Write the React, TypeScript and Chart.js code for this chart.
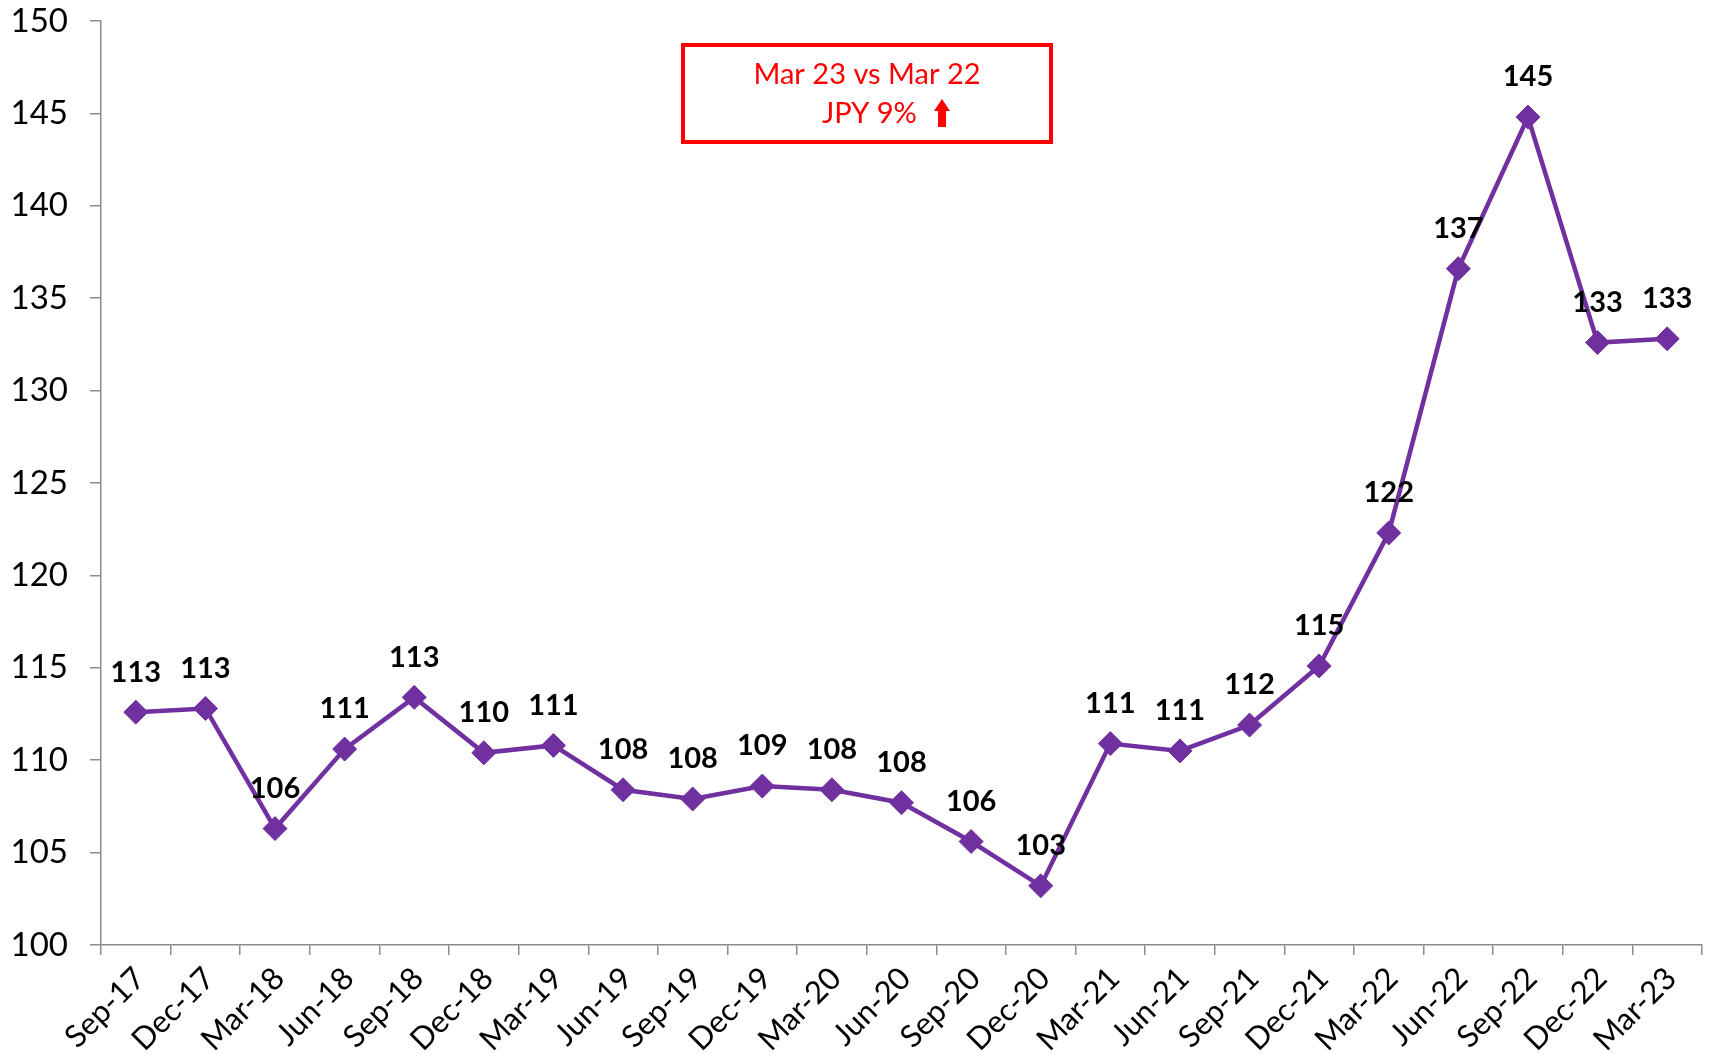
import React, { useEffect, useRef } from "react";
import { Chart, registerables } from "chart.js";

Chart.register(...registerables);

const categories = [
  "Sep-17", "Dec-17", "Mar-18", "Jun-18", "Sep-18", "Dec-18", "Mar-19", "Jun-19",
  "Sep-19", "Dec-19", "Mar-20", "Jun-20", "Sep-20", "Dec-20", "Mar-21", "Jun-21",
  "Sep-21", "Dec-21", "Mar-22", "Jun-22", "Sep-22", "Dec-22", "Mar-23",
];
const values = [
  112.6, 112.8, 106.3, 110.6, 113.4, 110.4, 110.8, 108.4,
  107.9, 108.6, 108.4, 107.7, 105.6, 103.2, 110.9, 110.5,
  111.9, 115.1, 122.3, 136.6, 144.8, 132.6, 132.8,
];
const yMin = 100;
const yMax = 150;
const yStep = 5;
const annotationTitle = "Mar 23 vs Mar 22";
const annotationValue = "JPY 9%";

const FONT = "Lato, 'Noto Sans', sans-serif";
const PURPLE = "#7030A0";
const AXIS = "#8C8C8C";

const labelPlugin = {
  id: "valueLabels",
  afterDatasetsDraw(chart: any) {
    const ctx = chart.ctx;
    const meta = chart.getDatasetMeta(0);
    ctx.save();
    ctx.font = `bold 29px ${FONT}`;
    ctx.fillStyle = "#000";
    ctx.textAlign = "center";
    ctx.textBaseline = "middle";
    meta.data.forEach((pt: any, i: number) => {
      ctx.fillText(String(Math.round(values[i])), pt.x, pt.y - 40);
    });
    ctx.restore();
  },
};

const annotationPlugin = {
  id: "annotationBox",
  afterDraw(chart: any) {
    const ctx = chart.ctx;
    ctx.save();
    ctx.strokeStyle = "#FF0000";
    ctx.lineWidth = 4;
    ctx.strokeRect(683, 45, 368, 97);
    ctx.fillStyle = "#FF0000";
    ctx.font = `29px ${FONT}`;
    ctx.textBaseline = "alphabetic";
    ctx.textAlign = "center";
    ctx.fillText(annotationTitle, 867, 84);
    ctx.textAlign = "left";
    ctx.fillText(annotationValue, 822, 123);
    // up arrow
    ctx.beginPath();
    ctx.moveTo(942, 99);
    ctx.lineTo(950, 111);
    ctx.lineTo(946, 111);
    ctx.lineTo(946, 127);
    ctx.lineTo(938, 127);
    ctx.lineTo(938, 111);
    ctx.lineTo(934, 111);
    ctx.closePath();
    ctx.fill();
    ctx.restore();
  },
};

export default function App() {
  const ref = useRef<HTMLCanvasElement | null>(null);

  useEffect(() => {
    document.body.style.margin = "0";
    const canvas = ref.current;
    if (!canvas) return;
    const chart = new Chart(canvas, {
      type: "line",
      data: {
        labels: categories,
        datasets: [
          {
            data: values,
            borderColor: PURPLE,
            backgroundColor: PURPLE,
            borderWidth: 4.5,
            pointStyle: "rectRot",
            pointRadius: 12,
            pointBorderWidth: 1,
            pointBackgroundColor: PURPLE,
            pointBorderColor: PURPLE,
            tension: 0,
          },
        ],
      },
      options: {
        animation: false,
        responsive: false,
        maintainAspectRatio: false,
        layout: { padding: { top: 0, right: 23, left: 0, bottom: 0 } },
        plugins: {
          legend: { display: false },
          tooltip: { enabled: false },
        },
        scales: {
          x: {
            type: "category",
            offset: true,
            grid: {
              offset: true,
              drawOnChartArea: false,
              drawTicks: true,
              tickLength: 10,
              color: AXIS,
              lineWidth: 1.5,
            },
            border: { color: AXIS, width: 1.5 },
            ticks: {
              maxRotation: 45,
              minRotation: 45,
              autoSkip: false,
              padding: 5,
              labelOffset: 4,
              color: "#000",
              font: { family: FONT, size: 31 },
            },
            afterFit: (scale: any) => {
              scale.height = 109;
            },
          },
          y: {
            min: yMin,
            max: yMax,
            ticks: {
              stepSize: yStep,
              padding: 22,
              color: "#000",
              font: { family: FONT, size: 33 },
            },
            grid: {
              drawOnChartArea: false,
              drawTicks: true,
              tickLength: 11,
              color: AXIS,
              lineWidth: 1.5,
            },
            border: { color: AXIS, width: 1.5 },
            afterFit: (scale: any) => {
              scale.width = 101;
              scale.paddingTop = 21;
              scale.paddingBottom = 0;
            },
          },
        },
      },
      plugins: [labelPlugin, annotationPlugin],
    });
    return () => chart.destroy();
  }, []);

  return (
    <div style={{ position: "absolute", left: 0, top: 0, width: 1725, height: 1054, background: "#fff" }}>
      <canvas ref={ref} width={1725} height={1054} style={{ display: "block" }} />
    </div>
  );
}
